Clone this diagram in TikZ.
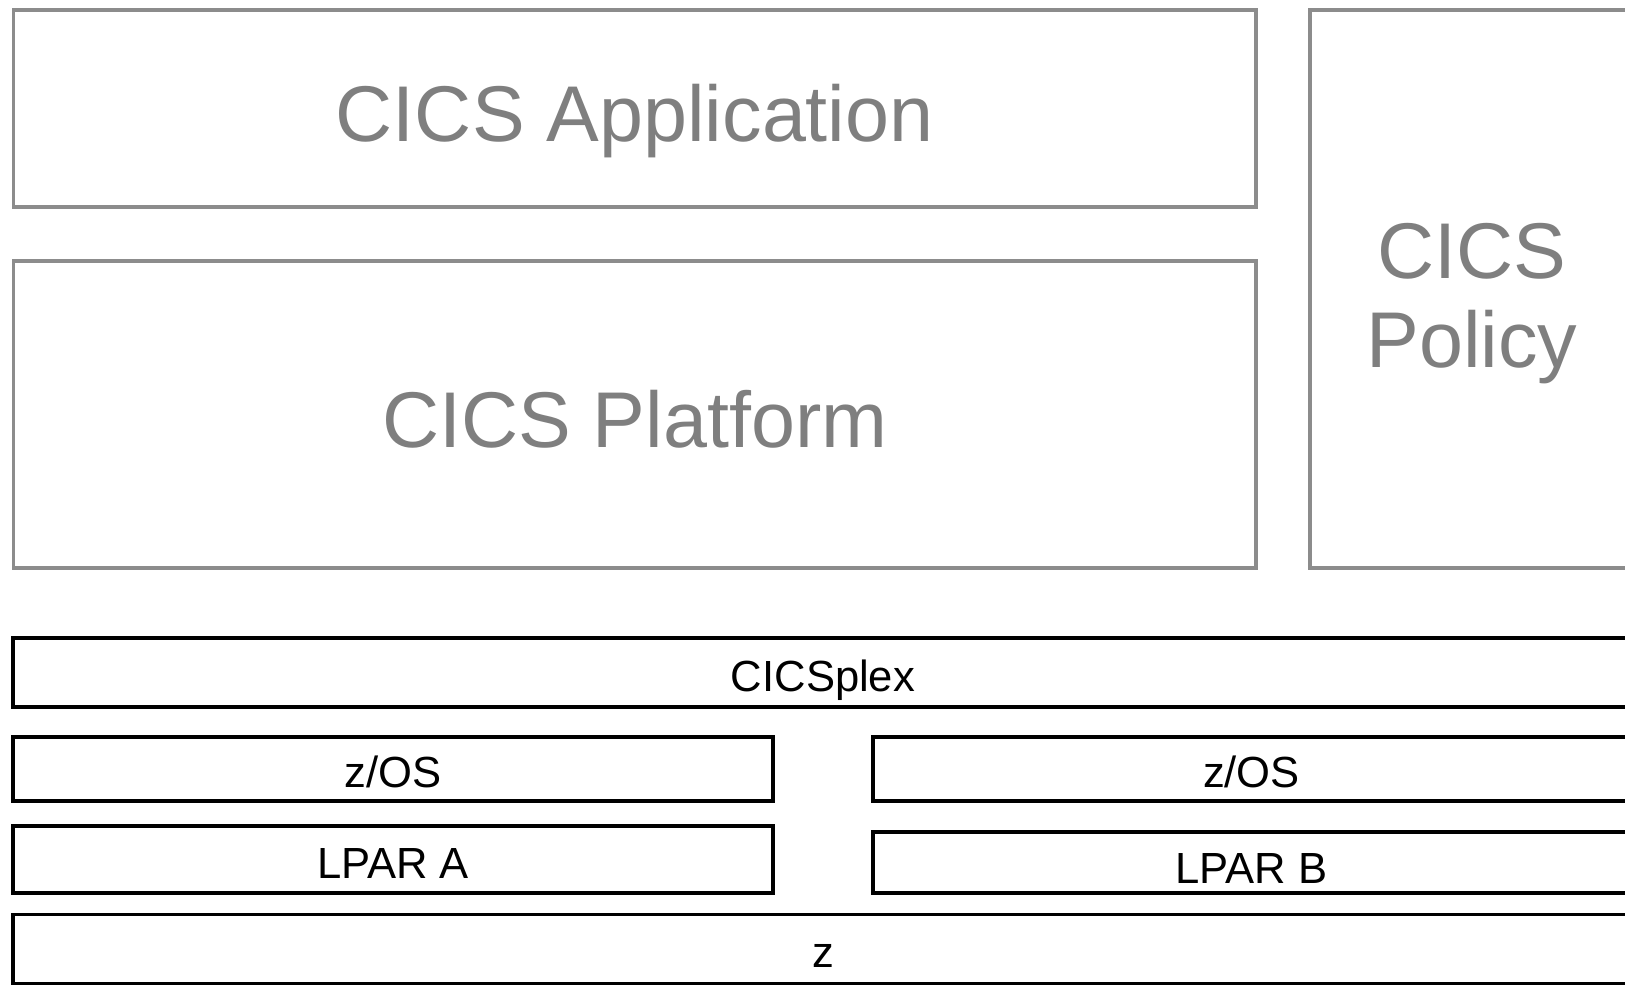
\documentclass[tikz,border=0pt]{standalone}
\usepackage{fontspec}
\setmainfont{Liberation Sans}
\definecolor{boxgray}{HTML}{8C8C8C}
\definecolor{textgray}{HTML}{7F7F7F}
\begin{document}
\begin{tikzpicture}[
  graybox/.style={draw=boxgray,line width=1pt,inner sep=0pt,text=textgray,
    font=\fontsize{22.5}{25.5}\selectfont,align=center,text height=18.9pt,text depth=0pt},
  blackbox/.style={draw=black,line width=1pt,inner sep=0pt,
    font=\fontsize{12.4}{14}\selectfont,text height=10.8pt,text depth=0pt}]
\useasboundingbox (0,0) rectangle (16.25,9.87);
% upper layers
\node[graybox,minimum width=12.425cm,minimum height=1.97cm] (app) at (6.3475,8.785) {CICS Application};
\node[graybox,minimum width=12.425cm,minimum height=3.07cm] (platform) at (6.3475,5.725) {CICS Platform};
\node[graybox,minimum width=3.24cm,minimum height=5.58cm,text height=44.8pt] (policy) at (14.72,6.98) {CICS\\Policy};
% lower layers
\node[blackbox,minimum width=16.2cm,minimum height=0.69cm] (plex) at (8.23,3.145) {CICSplex};
\node[blackbox,minimum width=7.6cm,minimum height=0.64cm] (zos-a) at (3.93,2.18) {z/OS};
\node[blackbox,minimum width=7.57cm,minimum height=0.64cm] (zos-b) at (12.515,2.18) {z/OS};
\node[blackbox,minimum width=7.6cm,minimum height=0.67cm] (lpar-a) at (3.93,1.275) {LPAR A};
\node[blackbox,minimum width=7.57cm,minimum height=0.61cm,text height=12pt] (lpar-b) at (12.515,1.245) {LPAR B};
\node[blackbox,minimum width=16.2cm,minimum height=0.69cm] (hw) at (8.23,0.38) {z};
\end{tikzpicture}
\end{document}
